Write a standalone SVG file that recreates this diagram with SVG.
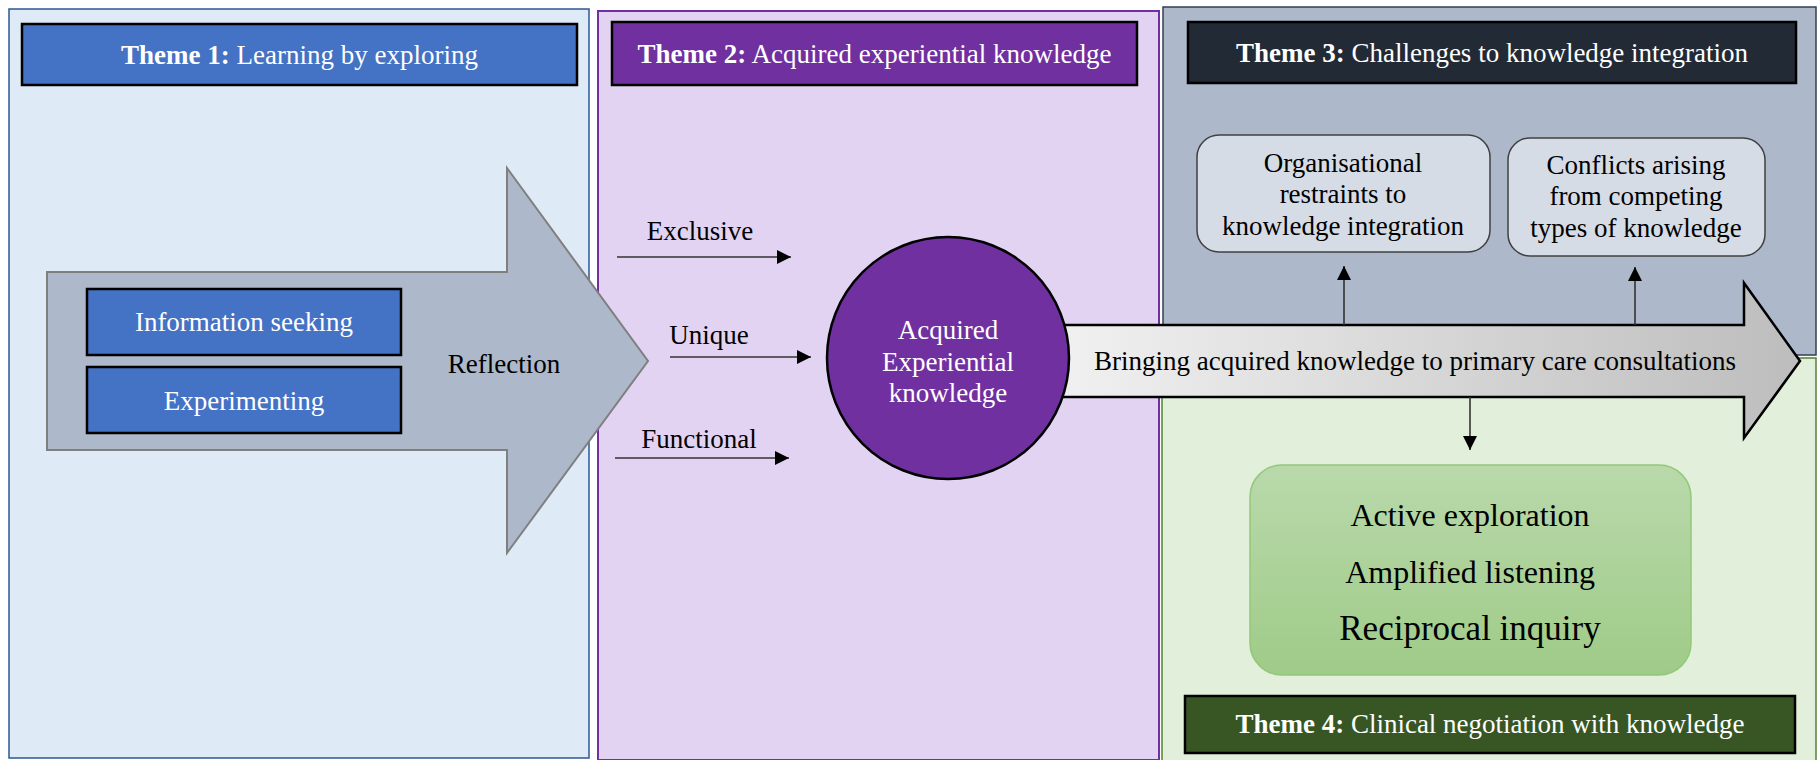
<svg xmlns="http://www.w3.org/2000/svg" width="1820" height="760" viewBox="0 0 1820 760">
  <style>
    text { font-family: "Liberation Serif", "Times New Roman", serif; font-size: 27px; }
    .w { fill: #ffffff; }
    .k { fill: #000000; }
    .b { font-weight: bold; }
    .mid { text-anchor: middle; }
    .hdr { stroke: #000000; stroke-width: 2.5; }
    .box { fill: #4472C4; stroke: #000000; stroke-width: 2.5; }
    .sub { fill: #D6DCE5; stroke: #404040; stroke-width: 1.5; }
    .conn { stroke: #333333; stroke-width: 1.6; fill: none; marker-end: url(#tri); }
    .big { font-size: 32px; }
  </style>
  <defs>
    <marker id="tri" markerUnits="userSpaceOnUse" markerWidth="16" markerHeight="14" refX="14" refY="7" orient="auto">
      <path d="M0,0 L14,7 L0,14 Z" fill="#000000"/>
    </marker>
    <linearGradient id="flow" x1="0" y1="0" x2="1" y2="0">
      <stop offset="0" stop-color="#F4F4F4"/>
      <stop offset="1" stop-color="#BDBDBD"/>
    </linearGradient>
    <linearGradient id="green" x1="0" y1="0" x2="0" y2="1">
      <stop offset="0" stop-color="#B9D9AB"/>
      <stop offset="1" stop-color="#9FCB88"/>
    </linearGradient>
  </defs>

  <!-- Theme panels -->
  <g id="panel1">
    <rect x="9" y="9" width="580" height="749" fill="#DEEAF6" stroke="#2F5597" stroke-width="1.5"/>
    <rect x="22" y="24" width="555" height="61" fill="#4472C4" class="hdr"/>
    <text x="299.5" y="64" class="w mid"><tspan class="b">Theme 1:</tspan> Learning by exploring</text>
  </g>
  <g id="panel2">
    <rect x="598" y="11" width="561" height="749" fill="#E3D3F3" stroke="#7030A0" stroke-width="2"/>
    <rect x="612" y="22" width="525" height="63" fill="#7030A0" class="hdr"/>
    <text x="874.5" y="63" class="w mid"><tspan class="b">Theme 2:</tspan> Acquired experiential knowledge</text>
  </g>
  <g id="panel4">
    <rect x="1162" y="358" width="654" height="404" fill="#E2EFDA" stroke="#548235" stroke-width="1.5"/>
  </g>
  <g id="panel3">
    <rect x="1163" y="7" width="653" height="348" fill="#ADB9CA" stroke="#333F50" stroke-width="1.5"/>
    <rect x="1188" y="22" width="608" height="61" fill="#222A35" class="hdr"/>
    <text x="1492" y="62" class="w mid"><tspan class="b">Theme 3:</tspan> Challenges to knowledge integration</text>
  </g>

  <!-- Theme 1: learning by exploring -->
  <g id="reflection">
    <polygon points="47,272 507,272 507,168 648,361 507,553 507,450 47,450" fill="#ADB9CA" stroke="#7F7F7F" stroke-width="2"/>
    <text x="504" y="373" class="k mid">Reflection</text>
  </g>
  <g id="info-seeking">
    <rect x="87" y="289" width="314" height="66" class="box"/>
    <text x="244" y="331" class="w mid">Information seeking</text>
  </g>
  <g id="experimenting">
    <rect x="87" y="367" width="314" height="66" class="box"/>
    <text x="244" y="410" class="w mid">Experimenting</text>
  </g>

  <!-- Theme 3 / 4 flow arrow -->
  <g id="bringing">
    <polygon points="1010,325 1744,325 1744,283 1800,361 1744,438 1744,397 1010,397" fill="url(#flow)" stroke="#000000" stroke-width="2.5"/>
    <text x="1415" y="370" class="k mid">Bringing acquired knowledge to primary care consultations</text>
  </g>

  <!-- Theme 2: central node -->
  <g id="acquired">
    <circle cx="948" cy="358" r="121" fill="#7030A0" stroke="#000000" stroke-width="2.5"/>
    <text x="948" y="339" class="w mid">Acquired</text>
    <text x="948" y="371" class="w mid">Experiential</text>
    <text x="948" y="402" class="w mid">knowledge</text>
  </g>

  <g id="labels">
    <text x="700" y="240" class="k mid">Exclusive</text>
    <text x="709" y="344" class="k mid">Unique</text>
    <text x="699" y="448" class="k mid">Functional</text>
  </g>

  <!-- Theme 3 challenges -->
  <g id="organisational">
    <rect x="1197" y="135" width="293" height="117" rx="22" class="sub"/>
    <text x="1343" y="172" class="k mid">Organisational</text>
    <text x="1343" y="203" class="k mid">restraints to</text>
    <text x="1343" y="235" class="k mid">knowledge integration</text>
  </g>
  <g id="conflicts">
    <rect x="1508" y="138" width="257" height="118" rx="22" class="sub"/>
    <text x="1636" y="174" class="k mid">Conflicts arising</text>
    <text x="1636" y="205" class="k mid">from competing</text>
    <text x="1636" y="237" class="k mid">types of knowledge</text>
  </g>

  <!-- Theme 4 outcomes -->
  <g id="negotiation">
    <rect x="1250" y="465" width="441" height="210" rx="32" fill="url(#green)" stroke="#92C87A" stroke-width="1.5"/>
    <text x="1470" y="526" class="k mid big">Active exploration</text>
    <text x="1470" y="583" class="k mid big">Amplified listening</text>
    <text x="1470" y="640" class="k mid" style="font-size:35px">Reciprocal inquiry</text>
  </g>
  <g id="theme4-header">
    <rect x="1185" y="696" width="610" height="57" fill="#375623" class="hdr"/>
    <text x="1490" y="733" class="w mid"><tspan class="b">Theme 4:</tspan> Clinical negotiation with knowledge</text>
  </g>

  <!-- Connectors -->
  <g id="connectors">
    <line x1="617" y1="257" x2="791" y2="257" class="conn"/>
    <line x1="670" y1="357" x2="811" y2="357" class="conn"/>
    <line x1="615" y1="458" x2="789" y2="458" class="conn"/>
    <line x1="1344" y1="325" x2="1344" y2="266" class="conn"/>
    <line x1="1635" y1="325" x2="1635" y2="267" class="conn"/>
    <line x1="1470" y1="397" x2="1470" y2="450" class="conn"/>
  </g>
</svg>
